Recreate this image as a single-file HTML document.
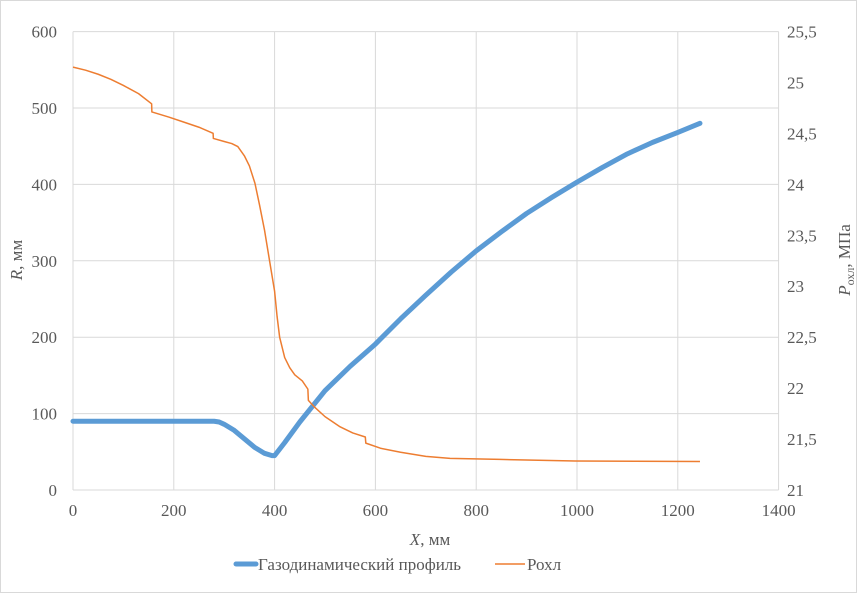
<!DOCTYPE html>
<html><head><meta charset="utf-8"><style>
body{margin:0;background:#fff}
svg{display:block;font-family:"Liberation Serif",serif}
</style></head><body>
<svg width="857" height="593" viewBox="0 0 857 593">
<rect x="0.5" y="0.5" width="856" height="592" fill="#fff" stroke="#d9d9d9"/>
<g id="grid"></g>
<g id="ticks" font-size="17" fill="#595959"></g>
<g id="series"></g>
<text x="430" y="545" font-size="17" fill="#595959" text-anchor="middle"><tspan font-style="italic">X</tspan>, мм</text>
<text transform="translate(22,260) rotate(-90)" font-size="17" fill="#595959" text-anchor="middle"><tspan font-style="italic">R</tspan>, мм</text>
<text transform="translate(850,260) rotate(-90)" font-size="17" fill="#595959" text-anchor="middle"><tspan font-style="italic">P</tspan><tspan font-size="12" dy="4">охл</tspan><tspan dy="-4">, МПа</tspan></text>
<g>
<g><line x1="236" y1="564" x2="256" y2="564" stroke="#5b9bd5" stroke-width="5" stroke-linecap="round"/><text x="258" y="570" font-size="17" fill="#595959">Газодинамический профиль</text></g>
<g><line x1="495" y1="564" x2="525" y2="564" stroke="#ed7d31" stroke-width="1.5"/><text x="527" y="570" font-size="17" fill="#595959">Рохл</text></g>
</g>
</svg>
<script>
const xTicks=[0,200,400,600,800,1000,1200,1400];
const yTicks=[0,100,200,300,400,500,600];
const y2Ticks=[21,21.5,22,22.5,23,23.5,24,24.5,25,25.5];
const profileX=[0,100,200,280,290,300,320,340,360,380,395,400,420,450,500,550,600,650,700,750,800,850,900,950,1000,1050,1100,1150,1200,1244];
const profileR=[90,90,90,90,89,86,78,67,56,48,45,45,62,89,130,162,191,224,255,285,313,338,362,383,403,422,440,455,468,480];
const pohlX=[0,25,50,75,100,130,156,156.5,190,220,250,278,278.5,300,315,327,340,350,361,370,380,390,400,405,410,420,430,440,455,466,467,480,500,530,555,580,581,610,650,700,748,847,996,1244];
const pohlP=[25.15,25.12,25.08,25.03,24.97,24.89,24.79,24.71,24.66,24.61,24.56,24.5,24.45,24.42,24.4,24.37,24.28,24.18,24.01,23.8,23.55,23.25,22.95,22.7,22.5,22.3,22.2,22.13,22.07,21.99,21.88,21.81,21.72,21.62,21.56,21.52,21.46,21.41,21.37,21.33,21.31,21.3,21.285,21.28];
const NS='http://www.w3.org/2000/svg';
const X=v=>73+v*0.504, Y=v=>490-v*0.764, Y2=v=>490-(v-21)*101.9;
const grid=document.getElementById('grid'),ticks=document.getElementById('ticks'),series=document.getElementById('series');
function mk(tag,attrs,parent){const e=document.createElementNS(NS,tag);for(const k in attrs)e.setAttribute(k,attrs[k]);parent.appendChild(e);return e;}
xTicks.forEach(v=>{const l=mk('line',{x1:X(v),x2:X(v),y1:Y(600),y2:Y(0),stroke:'#d9d9d9'},grid);


const t=mk('text',{x:X(v),y:516,'text-anchor':'middle'},ticks);t.textContent=v;

});
yTicks.forEach(v=>{const l=mk('line',{x1:X(0),x2:X(1400),y1:Y(v),y2:Y(v),stroke:'#d9d9d9'},grid);


const t=mk('text',{x:57,y:Y(v)+6,'text-anchor':'end'},ticks);t.textContent=v;

});
y2Ticks.forEach(v=>{const t=mk('text',{x:787,y:Y2(v)+6,'text-anchor':'start'},ticks);t.textContent=String(v).replace('.',',');

});
const bp=mk('path',{d:profileX.map((x,i)=>(i?'L':'M')+X(x)+','+Y(profileR[i])).join(''),fill:'none',stroke:'#5b9bd5','stroke-width':5,'stroke-linejoin':'round','stroke-linecap':'round'},series);


const op=mk('path',{d:pohlX.map((x,i)=>(i?'L':'M')+X(x)+','+Y2(pohlP[i])).join(''),fill:'none',stroke:'#ed7d31','stroke-width':1.5,'stroke-linejoin':'round'},series);


</script>
</body></html>
